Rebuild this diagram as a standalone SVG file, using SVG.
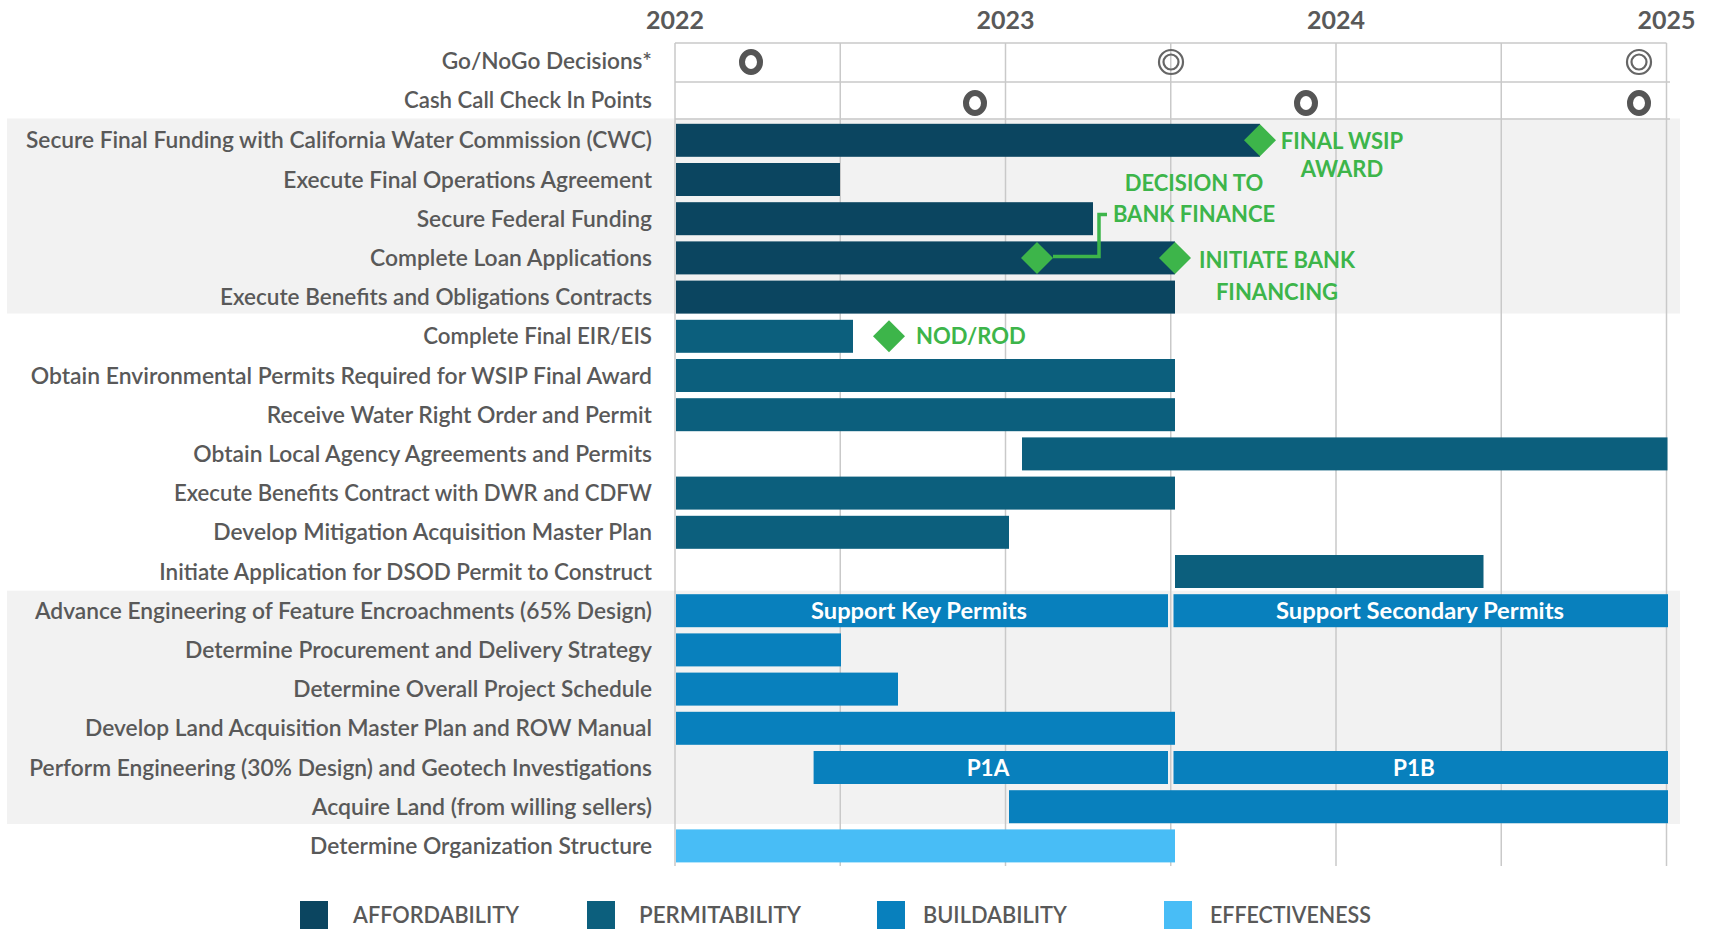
<svg xmlns="http://www.w3.org/2000/svg" width="1713" height="929" viewBox="0 0 1713 929">
<style>
.lbl{font-family:Lato,"Liberation Sans",sans-serif;font-size:22px;font-weight:600;fill:#595959;text-anchor:end}
.yr{font-family:Lato,"Liberation Sans",sans-serif;font-size:25px;font-weight:700;fill:#595959;text-anchor:middle}
.grn{font-family:Lato,"Liberation Sans",sans-serif;font-size:22px;font-weight:700;fill:#3db54a}
.bt{font-family:Lato,"Liberation Sans",sans-serif;font-size:22.5px;font-weight:700;fill:#ffffff;text-anchor:middle}
.lg{font-family:Lato,"Liberation Sans",sans-serif;font-size:22px;font-weight:600;fill:#595959}
.aff{fill:#0b4560}
.per{fill:#0c5f7d}
.bld{fill:#0880bd}
.eff{fill:#48bdf6}
.band{fill:#f2f2f2}
.gl{stroke:#c9c9c9;stroke-width:1.5;fill:none}
.dia{fill:#3db54a}
.ring1{fill:none;stroke:#555555;stroke-width:6}
.ring2{fill:none;stroke:#666666;stroke-width:2.2}
</style>
<rect width="1713" height="929" fill="#ffffff"/>
<g id="bands">
<rect class="band" x="7" y="118.5" width="1673" height="195"/>
<rect class="band" x="7" y="590.7" width="1673" height="233.3"/>
</g>
<g id="grid">
<line class="gl" x1="675" y1="43" x2="675" y2="866"/>
<line class="gl" x1="840.25" y1="43" x2="840.25" y2="866"/>
<line class="gl" x1="1005.5" y1="43" x2="1005.5" y2="866"/>
<line class="gl" x1="1170.75" y1="43" x2="1170.75" y2="866"/>
<line class="gl" x1="1336" y1="43" x2="1336" y2="866"/>
<line class="gl" x1="1501.25" y1="43" x2="1501.25" y2="866"/>
<line class="gl" x1="1666.5" y1="43" x2="1666.5" y2="866"/>
<line class="gl" x1="675" y1="43" x2="1666.5" y2="43"/>
<line class="gl" x1="675" y1="82" x2="1670" y2="82"/>
<line class="gl" x1="675" y1="119" x2="1670" y2="119"/>
</g>
<g id="years">
<text class="yr" x="675" y="29">2022</text>
<text class="yr" x="1005.5" y="29">2023</text>
<text class="yr" x="1336" y="29">2024</text>
<text class="yr" x="1666.5" y="29">2025</text>
</g>
<g id="gonogo">
<text class="lbl" x="652" y="68.5" textLength="210.3" lengthAdjust="spacingAndGlyphs">Go/NoGo Decisions*</text>
<ellipse class="ring1" cx="751" cy="62" rx="9" ry="10"/>
<circle class="ring2" cx="1171" cy="62" r="12"/><circle class="ring2" cx="1171" cy="62" r="7.5"/>
<circle class="ring2" cx="1639" cy="62" r="12"/><circle class="ring2" cx="1639" cy="62" r="7.5"/>
</g>
<g id="cashcall">
<text class="lbl" x="652" y="108" textLength="248" lengthAdjust="spacingAndGlyphs">Cash Call Check In Points</text>
<ellipse class="ring1" cx="975" cy="103" rx="9" ry="10"/>
<ellipse class="ring1" cx="1306" cy="103" rx="9" ry="10"/>
<ellipse class="ring1" cx="1639" cy="103" rx="9" ry="10"/>
</g>
<g id="t02"><text class="lbl" x="652" y="148.3" textLength="626" lengthAdjust="spacingAndGlyphs">Secure Final Funding with California Water Commission (CWC)</text><rect class="aff" x="676" y="123.8" width="584" height="33"/></g>
<g id="t03"><text class="lbl" x="652" y="187.5" textLength="368.7" lengthAdjust="spacingAndGlyphs">Execute Final Operations Agreement</text><rect class="aff" x="676" y="163" width="164" height="33"/></g>
<g id="t04"><text class="lbl" x="652" y="226.7" textLength="235.3" lengthAdjust="spacingAndGlyphs">Secure Federal Funding</text><rect class="aff" x="676" y="202.2" width="417" height="33"/></g>
<g id="t05"><text class="lbl" x="652" y="265.9" textLength="282" lengthAdjust="spacingAndGlyphs">Complete Loan Applications</text><rect class="aff" x="676" y="241.4" width="499" height="33"/></g>
<g id="t06"><text class="lbl" x="652" y="305.1" textLength="432" lengthAdjust="spacingAndGlyphs">Execute Benefits and Obligations Contracts</text><rect class="aff" x="676" y="280.6" width="499" height="33"/></g>
<g id="t07"><text class="lbl" x="652" y="344.3" textLength="228.7" lengthAdjust="spacingAndGlyphs">Complete Final EIR/EIS</text><rect class="per" x="676" y="319.8" width="177" height="33"/></g>
<g id="t08"><text class="lbl" x="652" y="383.5" textLength="621.3" lengthAdjust="spacingAndGlyphs">Obtain Environmental Permits Required for WSIP Final Award</text><rect class="per" x="676" y="359" width="499" height="33"/></g>
<g id="t09"><text class="lbl" x="652" y="422.7" textLength="385.3" lengthAdjust="spacingAndGlyphs">Receive Water Right Order and Permit</text><rect class="per" x="676" y="398.2" width="499" height="33"/></g>
<g id="t10"><text class="lbl" x="652" y="461.9" textLength="458.7" lengthAdjust="spacingAndGlyphs">Obtain Local Agency Agreements and Permits</text><rect class="per" x="1022" y="437.4" width="645.5" height="33"/></g>
<g id="t11"><text class="lbl" x="652" y="501.1" textLength="478" lengthAdjust="spacingAndGlyphs">Execute Benefits Contract with DWR and CDFW</text><rect class="per" x="676" y="476.6" width="499" height="33"/></g>
<g id="t12"><text class="lbl" x="652" y="540.3" textLength="438.7" lengthAdjust="spacingAndGlyphs">Develop Mitigation Acquisition Master Plan</text><rect class="per" x="676" y="515.8" width="333" height="33"/></g>
<g id="t13"><text class="lbl" x="652" y="579.5" textLength="492.7" lengthAdjust="spacingAndGlyphs">Initiate Application for DSOD Permit to Construct</text><rect class="per" x="1175" y="555" width="308.5" height="33"/></g>
<g id="t14"><text class="lbl" x="652" y="618.7" textLength="617" lengthAdjust="spacingAndGlyphs">Advance Engineering of Feature Encroachments (65% Design)</text>
<rect class="bld" x="676" y="594.2" width="492" height="33"/><rect class="bld" x="1173.5" y="594.2" width="494.5" height="33"/>
<text class="bt" x="919" y="618.7" textLength="216" lengthAdjust="spacingAndGlyphs">Support Key Permits</text><text class="bt" x="1420" y="618.7" textLength="288" lengthAdjust="spacingAndGlyphs">Support Secondary Permits</text></g>
<g id="t15"><text class="lbl" x="652" y="657.9" textLength="467" lengthAdjust="spacingAndGlyphs">Determine Procurement and Delivery Strategy</text><rect class="bld" x="676" y="633.4" width="165" height="33"/></g>
<g id="t16"><text class="lbl" x="652" y="697.1" textLength="358.7" lengthAdjust="spacingAndGlyphs">Determine Overall Project Schedule</text><rect class="bld" x="676" y="672.6" width="222" height="33"/></g>
<g id="t17"><text class="lbl" x="652" y="736.3" textLength="567" lengthAdjust="spacingAndGlyphs">Develop Land Acquisition Master Plan and ROW Manual</text><rect class="bld" x="676" y="711.8" width="499" height="33"/></g>
<g id="t18"><text class="lbl" x="652" y="775.5" textLength="622.7" lengthAdjust="spacingAndGlyphs">Perform Engineering (30% Design) and Geotech Investigations</text>
<rect class="bld" x="813.6" y="751" width="354.4" height="33"/><rect class="bld" x="1173.5" y="751" width="494.5" height="33"/>
<text class="bt" x="988" y="775.5">P1A</text><text class="bt" x="1414" y="775.5">P1B</text></g>
<g id="t19"><text class="lbl" x="652" y="814.7" textLength="340.3" lengthAdjust="spacingAndGlyphs">Acquire Land (from willing sellers)</text><rect class="bld" x="1009" y="790.2" width="659" height="33"/></g>
<g id="t20"><text class="lbl" x="652" y="853.9" textLength="342" lengthAdjust="spacingAndGlyphs">Determine Organization Structure</text><rect class="eff" x="676" y="829.4" width="499" height="33"/></g>
<g id="connectors">
<path d="M1053,256.5 H1099 V214.5 H1107" fill="none" stroke="#3db54a" stroke-width="3.5"/>
</g>
<g id="m-final">
<polygon class="dia" points="1260,124.3 1276,140.3 1260,156.3 1244,140.3"/>
<text class="grn" x="1342" y="148.7" text-anchor="middle">FINAL WSIP</text>
<text class="grn" x="1342" y="177.3" text-anchor="middle">AWARD</text>
</g>
<g id="m-decision">
<polygon class="dia" points="1037,241.9 1053,257.9 1037,273.9 1021,257.9"/>
<text class="grn" x="1194" y="191" text-anchor="middle">DECISION TO</text>
<text class="grn" x="1194" y="222" text-anchor="middle">BANK FINANCE</text>
</g>
<g id="m-initiate">
<polygon class="dia" points="1175,241.9 1191,257.9 1175,273.9 1159,257.9"/>
<text class="grn" x="1277" y="268" text-anchor="middle">INITIATE BANK</text>
<text class="grn" x="1277" y="299.7" text-anchor="middle">FINANCING</text>
</g>
<g id="m-nod">
<polygon class="dia" points="889,320.3 905,336.3 889,352.3 873,336.3"/>
<text class="grn" x="916" y="344.3">NOD/ROD</text>
</g>
<g id="legend">
<rect class="aff" x="300" y="901" width="28" height="28"/><text class="lg" x="353" y="923" textLength="166" lengthAdjust="spacingAndGlyphs">AFFORDABILITY</text>
<rect class="per" x="587" y="901" width="28" height="28"/><text class="lg" x="639" y="923" textLength="162" lengthAdjust="spacingAndGlyphs">PERMITABILITY</text>
<rect class="bld" x="877" y="901" width="28" height="28"/><text class="lg" x="923" y="923" textLength="144" lengthAdjust="spacingAndGlyphs">BUILDABILITY</text>
<rect class="eff" x="1164" y="901" width="28" height="28"/><text class="lg" x="1210" y="923" textLength="161" lengthAdjust="spacingAndGlyphs">EFFECTIVENESS</text>
</g>
</svg>
